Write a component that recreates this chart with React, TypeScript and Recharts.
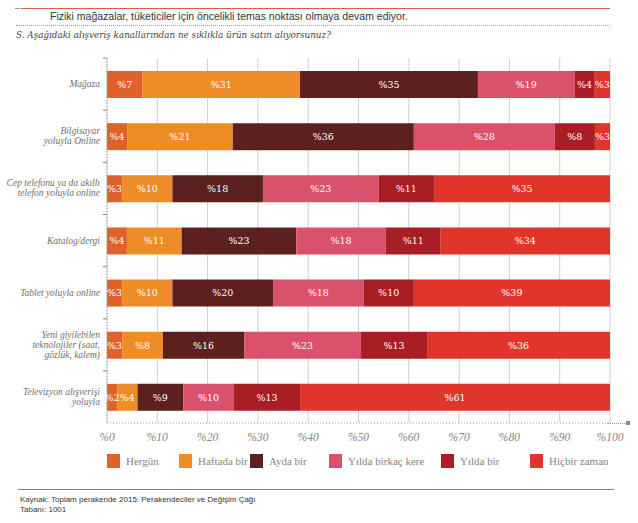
import React from "react";
import {
  BarChart,
  Bar,
  XAxis,
  YAxis,
  CartesianGrid,
  LabelList,
} from "recharts";

const channels = [
  "Mağaza",
  "Bilgisayar\nyoluyla Online",
  "Cep telefonu ya da akıllı\ntelefon yoluyla online",
  "Katalog/dergi",
  "Tablet yoluyla online",
  "Yeni giyilebilen\nteknolojiler (saat,\ngözlük, kalem)",
  "Televizyon alışverişi\nyoluyla",
];

const hergun = [7, 4, 3, 4, 3, 3, 2];
const haftada = [31, 21, 10, 11, 10, 8, 4];
const aydaBir = [35, 36, 18, 23, 20, 16, 9];
const yildaBirkac = [19, 28, 23, 18, 18, 23, 10];
const yildaBir = [4, 8, 11, 11, 10, 13, 13];
const hicbir = [3, 3, 35, 34, 39, 36, 61];

const xTicks = [0, 0.1, 0.2, 0.3, 0.4, 0.5, 0.6, 0.7, 0.8, 0.9, 1];

const series = [
  { key: "hergun", name: "Hergün", color: "#e0622a", values: hergun },
  { key: "haftada", name: "Haftada bir", color: "#ee8c25", values: haftada },
  { key: "ayda", name: "Ayda bir", color: "#5c201e", values: aydaBir },
  { key: "yildaBirkac", name: "Yılda birkaç kere", color: "#da516b", values: yildaBirkac },
  { key: "yildaBir", name: "Yılda bir", color: "#a81e24", values: yildaBir },
  { key: "hicbir", name: "Hiçbir zaman", color: "#e1342a", values: hicbir },
];

const data = channels.map((name, i) => {
  const row: any = { name };
  series.forEach((s) => {
    row[s.key] = s.values[i];
  });
  return row;
});

// left edge of each legend swatch
const legendLeft = [107, 179, 250, 329, 441, 530];

const serif = "'Liberation Serif', serif";
const slab = "'DejaVu Serif', serif";
const sans = "'Liberation Sans', Arial, sans-serif";

const CategoryTick = ({ x, y, payload }: any) => {
  const lines = String(payload.value).split("\n");
  const lh = 10;
  const startY = y - ((lines.length - 1) * lh) / 2 + 3;
  return (
    <g>
      <line x1={x + 4} x2={x + 8} y1={y - 26} y2={y - 26} stroke="#888" strokeWidth={1} />
      <text
        textAnchor="end"
        fill="#736d67"
        fontFamily={serif}
        fontStyle="italic"
        fontSize={9.5}
      >
        {lines.map((l, i) => (
          <tspan key={i} x={x + 1} y={startY + i * lh}>
            {l}
          </tspan>
        ))}
      </text>
    </g>
  );
};

export default function App() {
  return (
    <div
      style={{
        position: "absolute",
        left: 0,
        top: 0,
        width: 638,
        height: 523,
        background: "#fff",
        overflow: "hidden",
      }}
    >
      <div style={{ position: "absolute", left: 15, top: 8, width: 5, height: 1, background: "#999" }} />
      <div style={{ position: "absolute", left: 21, top: 8, width: 589, height: 1, background: "#e05a4a" }} />
      <div
        style={{
          position: "absolute",
          left: 50,
          top: 10,
          fontFamily: sans,
          fontSize: 10.5,
          color: "#333",
          whiteSpace: "nowrap",
        }}
      >
        Fiziki mağazalar, tüketiciler için öncelikli temas noktası olmaya devam ediyor.
      </div>
      <div
        style={{
          position: "absolute",
          left: 16,
          top: 25,
          width: 594,
          borderTop: "1px dotted #999",
        }}
      />
      <div
        style={{
          position: "absolute",
          left: 16,
          top: 30,
          fontFamily: slab,
          fontStyle: "italic",
          fontSize: 8.8,
          color: "#444",
          whiteSpace: "nowrap",
        }}
      >
        S. Aşağıdaki alışveriş kanallarından ne sıklıkla ürün satın alıyorsunuz?
      </div>

      <div style={{ position: "absolute", left: 0, top: 0 }}>
        <BarChart
          width={638}
          height={523}
          data={data}
          layout="vertical"
          stackOffset="expand"
          margin={{ top: 58, right: 28, bottom: 70, left: 7 }}
          barSize={27}
        >
          <CartesianGrid horizontal={false} vertical stroke="#cfcfcf" />
          <XAxis
            type="number"
            domain={[0, 1]}
            ticks={xTicks}
            height={30}
            tickFormatter={(v: number) => `%${Math.round(v * 100)}`}
            tick={{ fill: "#8a847e", fontSize: 11.5, fontFamily: serif, fontStyle: "italic" }}
            axisLine={{ stroke: "#999", strokeDasharray: "1 2" }}
            tickLine={false}
            tickMargin={4}
          />
          <YAxis
            type="category"
            dataKey="name"
            width={100}
            tick={<CategoryTick />}
            axisLine={{ stroke: "#999", strokeDasharray: "1 2" }}
            tickLine={false}
            interval={0}
          />
          {series.map((s) => (
            <Bar
              key={s.key}
              dataKey={s.key}
              stackId="a"
              fill={s.color}
              isAnimationActive={false}
            >
              <LabelList
                dataKey={s.key}
                position="center"
                fill="#fff"
                fontSize={9.5}
                fontFamily={slab}
                formatter={(v: any) => `%${v}`}
              />
            </Bar>
          ))}
        </BarChart>
      </div>

      <div style={{ position: "absolute", left: 607, top: 423, width: 22, borderTop: "1px dotted #999" }} />
      <div style={{ position: "absolute", left: 626, top: 421, width: 4, height: 4, background: "#8a847e" }} />

      {series.map((s, i) => (
        <div
          key={s.key}
          style={{
            position: "absolute",
            left: legendLeft[i],
            top: 454,
            display: "flex",
            alignItems: "center",
            whiteSpace: "nowrap",
          }}
        >
          <div style={{ width: 13, height: 14, background: s.color, marginRight: 6 }} />
          <span style={{ fontFamily: serif, fontSize: 11, color: "#8a847e" }}>{s.name}</span>
        </div>
      ))}

      <div style={{ position: "absolute", left: 18, top: 489, width: 596, height: 1, background: "#8a857a" }} />
      <div
        style={{
          position: "absolute",
          left: 20,
          top: 495,
          fontFamily: sans,
          fontSize: 8,
          lineHeight: "10px",
          color: "#333",
        }}
      >
        <div>Kaynak: Toplam perakende 2015: Perakendeciler ve Değişim Çağı</div>
        <div>Tabanı: 1001</div>
      </div>
    </div>
  );
}
